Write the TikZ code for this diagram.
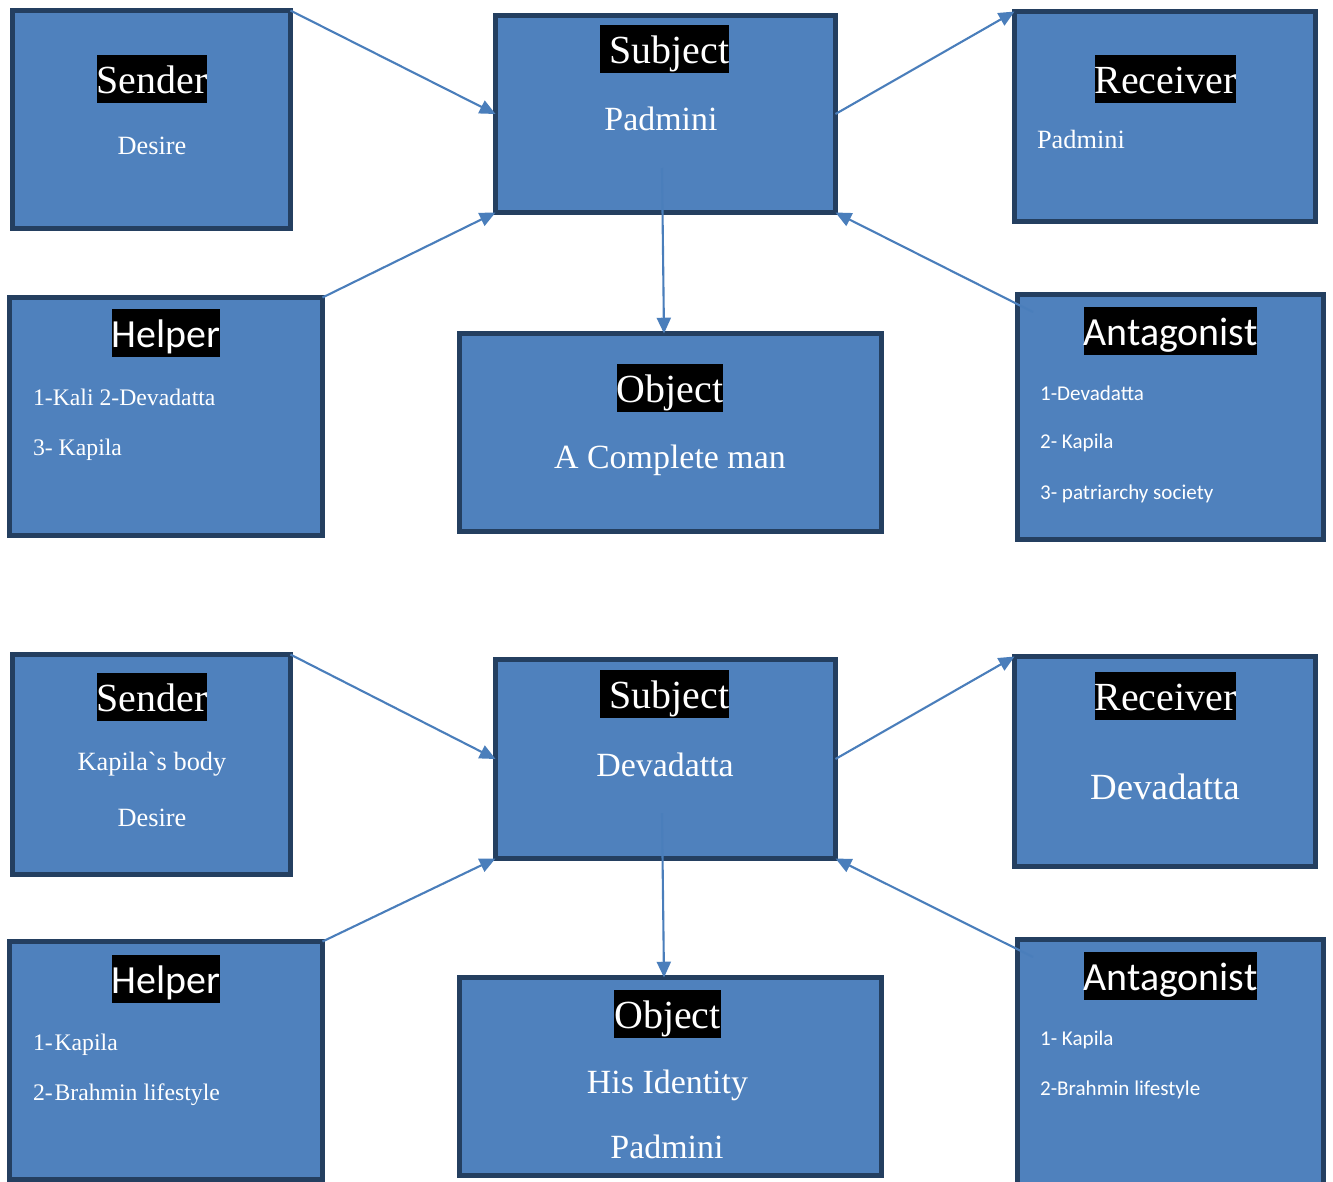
\documentclass[tikz,border=0pt]{standalone}
\usepackage{fontspec}
\setmainfont{Liberation Serif}
\newfontfamily\calibri{Carlito}
\usepackage{xcolor}
\usetikzlibrary{arrows.meta}
\definecolor{boxfill}{HTML}{4F81BD}
\definecolor{boxline}{HTML}{243F60}
\definecolor{arrowblue}{HTML}{4A7EBB}
\tikzset{role/.style={rectangle, draw=boxline, fill=boxfill, line width=2.8pt,
		inner sep=0pt, outer sep=0pt},
	head/.style={fill=black, text=white, inner sep=0pt, text height=21.5pt,
		text depth=5.8pt, anchor=base, font=\fontsize{22.7}{27}\selectfont},
	headsf/.style={head, font=\calibri\fontsize{22.7}{27}\selectfont},
	txtbig/.style={text=white, inner sep=0pt, anchor=base, font=\fontsize{19.3}{23}\selectfont},
	txtmid/.style={text=white, inner sep=0pt, anchor=base, font=\fontsize{15}{18}\selectfont},
	txtsmall/.style={text=white, inner sep=0pt, anchor=base west, font=\fontsize{13.5}{16}\selectfont},
	txtsf/.style={text=white, inner sep=0pt, anchor=base west, font=\calibri\fontsize{12}{14}\selectfont}}

\begin{document}
\begin{tikzpicture}[
		x = 0.02cm, y = -0.02cm, % one unit = one pixel, downwards
		> = {Triangle[length=9pt, width=8pt]}, % arrow head style
		line width = 1.2pt, % line style
	]
	\useasboundingbox (0,0) rectangle (1333,1181);
	\clip (0,0) rectangle (1333,1181);

	% first model
	\node[role, minimum width=5.56cm, minimum height=4.36cm] (sender) at (151.5,119.5){};
	\node[role, minimum width=6.8cm, minimum height=3.94cm] (subject) at (665.5,114){};
	\node[role, minimum width=6.02cm, minimum height=4.2cm] (receiver) at (1165,116.5){};
	\node[role, minimum width=6.26cm, minimum height=4.76cm] (helper) at (166,416.5){};
	\node[role, minimum width=8.44cm, minimum height=3.96cm] (object) at (670.5,432.5){};
	\node[role, minimum width=6.12cm, minimum height=4.9cm] (antag) at (1170.5,417){};

	\node[head] (senderhd) at (152,93){Sender};
	\node[txtmid] (senderdesire) at (152,154){Desire};
	\node[head] (subjecthd) at (664.5,63){\ Subject};
	\node[txtbig] (subjectname) at (661,130){Padmini};
	\node[head] (receiverhd) at (1165.5,93){Receiver};
	\node[txtmid, anchor=base west] (receivername) at (1036,148){Padmini};
	\node[headsf] (helperhd) at (166,347){Helper};
	\node[txtsmall] (helperone) at (32,405){1-Kali 2-Devadatta};
	\node[txtsmall] (helpertwo) at (32,455){3- Kapila};
	\node[head] (objecthd) at (670,402){Object};
	\node[txtbig] (objectname) at (670,468){A Complete man};
	\node[headsf] (antaghd) at (1170.5,345){Antagonist};
	\node[txtsf] (antagone) at (1039,400){1-Devadatta};
	\node[txtsf] (antagtwo) at (1039,448){2- Kapila};
	\node[txtsf] (antagthree) at (1039,499){3- patriarchy society};

	\begin{scope}[draw=arrowblue, color=arrowblue]
		\draw[->] (sender.north east) to (subject.west);
		\draw[->] (helper.north east) to (subject.south west);
		\draw[->] (subject.east) to (receiver.north west);
		\draw[->] ([shift={(15.5,17.5)}]antag.north west) to (subject.south east);
		\draw[->] ([shift={(-3.5,54)}]subject.center) to ([shift={(-6.5,0)}]object.north);
	\end{scope}

	% second model
	\node[role, minimum width=5.56cm, minimum height=4.4cm] (sender2) at (151.5,764.5){};
	\node[role, minimum width=6.8cm, minimum height=3.98cm] (subject2) at (665.5,759){};
	\node[role, minimum width=6.02cm, minimum height=4.2cm] (receiver2) at (1165,761.5){};
	\node[role, minimum width=6.26cm, minimum height=4.76cm] (helper2) at (166,1060.5){};
	\node[role, minimum width=8.44cm, minimum height=3.96cm] (object2) at (670.5,1076.5){};
	\node[role, minimum width=6.12cm, minimum height=4.9cm] (antag2) at (1170.5,1062){};

	\node[head] (sender2hd) at (152,711){Sender};
	\node[txtmid] (sender2body) at (152,770){Kapila\textasciigrave s body};
	\node[txtmid] (sender2desire) at (152,826){Desire};
	\node[head] (subject2hd) at (664.5,708){\ Subject};
	\node[txtbig] (subject2name) at (665,776){Devadatta};
	\node[head] (receiver2hd) at (1165.5,710){Receiver};
	\node[txtbig, font=\fontsize{21}{25}\selectfont] (receiver2name) at (1165,799){Devadatta};
	\node[headsf] (helper2hd) at (166,993){Helper};
	\node[txtsmall] (helper2one) at (32,1050){1-\kern1pt Kapila};
	\node[txtsmall] (helper2two) at (32,1100){2-\kern1pt Brahmin lifestyle};
	\node[head] (object2hd) at (667.5,1028){Object};
	\node[txtbig] (object2one) at (667.5,1093){His Identity};
	\node[txtbig] (object2two) at (667,1158){Padmini};
	\node[headsf] (antag2hd) at (1170.5,990){Antagonist};
	\node[txtsf] (antag2one) at (1039,1045){1- Kapila};
	\node[txtsf] (antag2two) at (1039,1095){2-Brahmin lifestyle};

	\begin{scope}[draw=arrowblue, color=arrowblue]
		\draw[->] (sender2.north east) to (subject2.west);
		\draw[->] (helper2.north east) to (subject2.south west);
		\draw[->] (subject2.east) to (receiver2.north west);
		\draw[->] ([shift={(15.5,17.5)}]antag2.north west) to (subject2.south east);
		\draw[->] ([shift={(-3.5,54)}]subject2.center) to ([shift={(-6.5,0)}]object2.north);
	\end{scope}
\end{tikzpicture}
\end{document}
